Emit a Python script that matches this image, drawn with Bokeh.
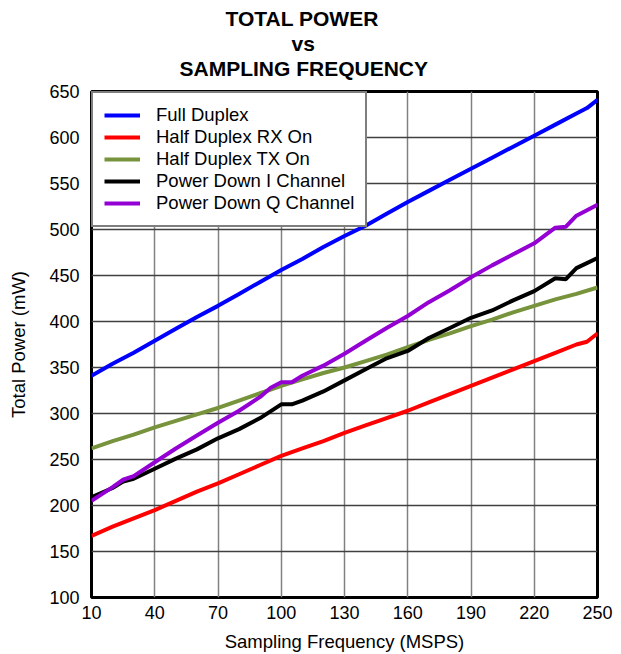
from bokeh.plotting import figure
from bokeh.models import Range1d, FixedTicker, Title
from bokeh.embed import file_html
from bokeh.resources import INLINE

# ---------------- data ----------------
title_lines = ["TOTAL POWER", "vs", "SAMPLING FREQUENCY"]
x_label = "Sampling Frequency (MSPS)"
y_label = "Total Power (mW)"
x_ticks = [10, 40, 70, 100, 130, 160, 190, 220, 250]
y_ticks = [100, 150, 200, 250, 300, 350, 400, 450, 500, 550, 600, 650]

freq_full = [10, 20, 30, 40, 50, 60, 70, 80, 90, 100, 110, 120, 130, 140, 150,
             160, 170, 180, 190, 200, 210, 220, 230, 240, 245, 250]
full_duplex = [341, 354, 366, 379, 392, 405, 417, 430, 443, 456, 468, 481, 493, 504, 517,
               530, 542, 554, 566, 578, 590, 602, 614, 626, 632, 641]

freq_rx = [10, 20, 30, 40, 50, 60, 70, 80, 90, 100, 110, 120, 130, 140, 150,
           160, 170, 180, 190, 200, 210, 220, 230, 240, 245, 250]
half_rx = [167, 177, 186, 195, 205, 215, 224, 234, 244, 254, 262, 270, 279, 287, 295,
           303, 312, 321, 330, 339, 348, 357, 366, 375, 378, 387]

freq_tx = [10, 20, 30, 40, 50, 60, 70, 80, 90, 100, 110, 120, 130, 140, 150,
           160, 170, 180, 190, 200, 210, 220, 230, 240, 250]
half_tx = [262, 270, 277, 285, 292, 299, 306, 314, 322, 330, 337, 344, 350, 357, 364,
           372, 380, 387, 395, 402, 410, 417, 424, 430, 437]

freq_i = [10, 20, 25, 30, 40, 50, 60, 70, 80, 90, 100, 105, 110, 120, 130, 140, 150,
          160, 170, 180, 190, 200, 210, 220, 230, 235, 240, 250]
pd_i = [209, 219, 226, 229, 240, 251, 261, 273, 283, 295, 310, 310, 314, 324, 336, 348, 360,
        368, 382, 393, 404, 412, 423, 433, 447, 446, 458, 469]

freq_q = [10, 20, 25, 30, 40, 50, 60, 70, 80, 90, 95, 100, 105, 110, 120, 130, 140, 150,
          160, 170, 180, 190, 200, 210, 220, 230, 235, 240, 250]
pd_q = [205, 220, 228, 232, 247, 262, 276, 290, 303, 318, 328, 334, 334, 341, 352, 365, 379, 393,
        406, 421, 434, 448, 461, 473, 485, 502, 503, 515, 527]

series = [
    ("Full Duplex", freq_full, full_duplex, "#0000FF"),
    ("Half Duplex RX On", freq_rx, half_rx, "#FF0000"),
    ("Half Duplex TX On", freq_tx, half_tx, "#77933C"),
    ("Power Down I Channel", freq_i, pd_i, "#000000"),
    ("Power Down Q Channel", freq_q, pd_q, "#9400D3"),
]

FONT = "Liberation Sans"

# ---------------- figure ----------------
p = figure(width=621, height=654, output_backend="svg", toolbar_location=None,
           x_range=Range1d(10, 250), y_range=Range1d(100, 650),
           min_border_left=91, min_border_right=24, min_border_top=91, min_border_bottom=57)
p.title.visible = False
p.background_fill_color = "white"
p.border_fill_color = "white"
p.outline_line_color = "black"
p.outline_line_width = 3

for name, xs, ys, col in series:
    p.line(xs, ys, line_width=4, color=col, legend_label=name)

# axes
p.xaxis.ticker = FixedTicker(ticks=x_ticks)
p.yaxis.ticker = FixedTicker(ticks=y_ticks)
for ax in (p.xaxis[0], p.yaxis[0]):
    ax.axis_line_color = None
    ax.major_tick_line_color = None
    ax.minor_tick_line_color = None
    ax.major_tick_out = 0
    ax.major_tick_in = 0
    ax.minor_tick_out = 0
    ax.minor_tick_in = 0
    ax.major_label_text_font = FONT
    ax.major_label_text_font_size = "18px"
    ax.major_label_text_color = "black"
    ax.axis_label_text_font = FONT
    ax.axis_label_text_font_size = "18.5px"
    ax.axis_label_text_font_style = "normal"
    ax.axis_label_text_color = "black"
p.xaxis.axis_label = x_label
p.yaxis.axis_label = y_label
p.xaxis.major_label_standoff = 8
p.xaxis.axis_label_standoff = 9
p.yaxis.major_label_standoff = 12
p.yaxis.axis_label_standoff = 17

# grid
p.xgrid.ticker = FixedTicker(ticks=x_ticks)
p.ygrid.ticker = FixedTicker(ticks=y_ticks)
p.xgrid.grid_line_color = "#808080"
p.xgrid.grid_line_width = 1.5
p.ygrid.grid_line_color = "#404040"
p.ygrid.grid_line_width = 1.5

# legend
lg = p.legend[0]
lg.location = "top_left"
lg.margin = 0
lg.padding = 11
lg.spacing = 0
lg.border_line_color = "black"
lg.border_line_width = 2
lg.background_fill_color = "white"
lg.background_fill_alpha = 1
lg.label_text_font = FONT
lg.label_text_font_size = "18.5px"
lg.label_text_color = "black"
lg.glyph_width = 36
lg.glyph_height = 20
lg.label_height = 20
lg.label_standoff = 16

# title: three stacked lines above the frame, centred at x ~ 303 px
p.add_layout(Title(text=" ", text_font_size="1px", standoff=8), "above")  # spacer
title_offsets = [134, 200, 88]
for txt, off in reversed(list(zip(title_lines, title_offsets))):
    p.add_layout(Title(text=txt, align="left", offset=off, vertical_align="middle",
                       standoff=0, text_font=FONT, text_font_style="bold",
                       text_font_size="21px", text_color="black"), "above")

open("out.html", "w").write(file_html(p, INLINE))
